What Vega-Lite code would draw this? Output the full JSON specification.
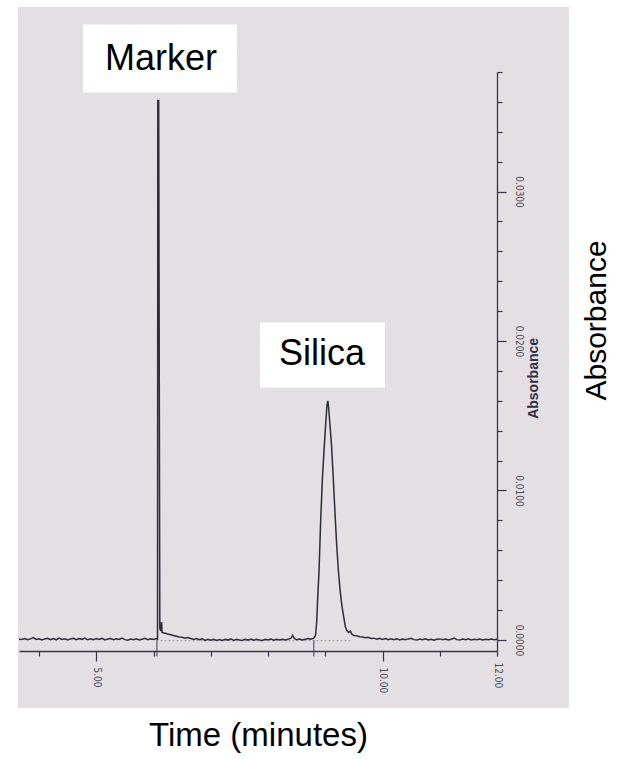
{
  "$schema": "https://vega.github.io/schema/vega-lite/v6.json",
  "width": 478,
  "height": 579,
  "autosize": {"type": "none"},
  "padding": {"left": 19, "top": 72, "right": 124, "bottom": 108},
  "background": "white",
  "config": {"view": {"stroke": null}},
  "datasets": {
    "trace": [
      {"t": 3.65, "a": 0.00005}, {"t": 3.70, "a": 0.00003}, {"t": 3.75, "a": 0.00009}, {"t": 3.80, "a": 0.00001},
      {"t": 3.85, "a": 0.00007}, {"t": 3.90, "a": 0.00016}, {"t": 3.95, "a": 0.00003}, {"t": 4.00, "a": 0.00008},
      {"t": 4.05, "a": 0.0}, {"t": 4.10, "a": 0.00007}, {"t": 4.15, "a": 0.00011}, {"t": 4.20, "a": 0.00002},
      {"t": 4.25, "a": 0.00009}, {"t": 4.30, "a": 0.00001}, {"t": 4.35, "a": 0.00012}, {"t": 4.40, "a": 0.00003},
      {"t": 4.45, "a": 0.00008}, {"t": 4.50, "a": 0.0}, {"t": 4.55, "a": 0.00007}, {"t": 4.60, "a": 0.00011},
      {"t": 4.65, "a": 0.00002}, {"t": 4.70, "a": 0.00009}, {"t": 4.75, "a": 0.00004}, {"t": 4.80, "a": 0.00013},
      {"t": 4.85, "a": 0.00001}, {"t": 4.90, "a": 0.00007}, {"t": 4.95, "a": 0.00002}, {"t": 5.00, "a": 0.00009},
      {"t": 5.05, "a": 0.00003}, {"t": 5.10, "a": 0.00011}, {"t": 5.15, "a": 0.0}, {"t": 5.20, "a": 0.00006},
      {"t": 5.25, "a": 0.00009}, {"t": 5.30, "a": 0.00001}, {"t": 5.35, "a": 0.00008}, {"t": 5.40, "a": 0.00003},
      {"t": 5.45, "a": 0.00012}, {"t": 5.50, "a": 0.00002}, {"t": 5.55, "a": -0.00002}, {"t": 5.60, "a": 0.00006},
      {"t": 5.65, "a": 0.00001}, {"t": 5.70, "a": 0.00008}, {"t": 5.75, "a": 0.0}, {"t": 5.80, "a": 0.00005},
      {"t": 5.85, "a": 0.00011}, {"t": 5.90, "a": 0.00002}, {"t": 5.95, "a": 0.00007}, {"t": 6.00, "a": 0.00003},
      {"t": 6.05, "a": 0.00009}, {"t": 6.07, "a": 0.00005}, {"t": 6.075, "a": 0.0361}, {"t": 6.09, "a": 0.0361},
      {"t": 6.11, "a": 0.0008}, {"t": 6.125, "a": 0.0006}, {"t": 6.14, "a": 0.0012}, {"t": 6.15, "a": 0.0005},
      {"t": 6.20, "a": 0.00045}, {"t": 6.25, "a": 0.0004}, {"t": 6.30, "a": 0.00035}, {"t": 6.35, "a": 0.0003},
      {"t": 6.40, "a": 0.00025}, {"t": 6.45, "a": 0.0002}, {"t": 6.50, "a": 0.00018}, {"t": 6.55, "a": 0.00012},
      {"t": 6.60, "a": 0.00016}, {"t": 6.65, "a": 0.0001}, {"t": 6.70, "a": 0.00003}, {"t": 6.75, "a": 0.00009},
      {"t": 6.80, "a": 0.00001}, {"t": 6.85, "a": 0.00007}, {"t": 6.90, "a": -0.00003}, {"t": 6.95, "a": 0.00005},
      {"t": 7.00, "a": -0.00002}, {"t": 7.05, "a": 0.00004}, {"t": 7.10, "a": -0.00004}, {"t": 7.15, "a": 0.00003},
      {"t": 7.20, "a": -0.00003}, {"t": 7.25, "a": 0.00005}, {"t": 7.30, "a": -0.00001}, {"t": 7.35, "a": 0.00007},
      {"t": 7.40, "a": -0.00003}, {"t": 7.45, "a": 0.00004}, {"t": 7.50, "a": 0.0}, {"t": 7.55, "a": -0.00004},
      {"t": 7.60, "a": 0.00005}, {"t": 7.65, "a": -0.00001}, {"t": 7.70, "a": 0.00006}, {"t": 7.75, "a": -0.00002},
      {"t": 7.80, "a": 0.00004}, {"t": 7.85, "a": 0.0}, {"t": 7.90, "a": -0.00003}, {"t": 7.95, "a": 0.00005},
      {"t": 8.00, "a": 0.0}, {"t": 8.05, "a": 0.00006}, {"t": 8.10, "a": -0.00002}, {"t": 8.15, "a": 0.00004},
      {"t": 8.20, "a": -0.00001}, {"t": 8.25, "a": 0.00005}, {"t": 8.30, "a": 0.0}, {"t": 8.35, "a": 0.00004},
      {"t": 8.40, "a": 0.00012}, {"t": 8.43, "a": 0.0003}, {"t": 8.46, "a": 0.0001}, {"t": 8.50, "a": 0.00001},
      {"t": 8.55, "a": 0.00006}, {"t": 8.60, "a": 0.0}, {"t": 8.65, "a": 0.00005}, {"t": 8.70, "a": 0.00009},
      {"t": 8.75, "a": 0.00005}, {"t": 8.80, "a": 0.00012}, {"t": 8.83, "a": 0.0003}, {"t": 8.85, "a": 0.0012},
      {"t": 8.87, "a": 0.003}, {"t": 8.89, "a": 0.0045}, {"t": 8.92, "a": 0.008}, {"t": 8.95, "a": 0.0108},
      {"t": 8.98, "a": 0.0128}, {"t": 9.01, "a": 0.0146}, {"t": 9.03, "a": 0.0157}, {"t": 9.045, "a": 0.016},
      {"t": 9.06, "a": 0.0155}, {"t": 9.08, "a": 0.0145}, {"t": 9.11, "a": 0.013}, {"t": 9.14, "a": 0.0108},
      {"t": 9.17, "a": 0.0085}, {"t": 9.20, "a": 0.0063}, {"t": 9.23, "a": 0.0046}, {"t": 9.26, "a": 0.0033},
      {"t": 9.29, "a": 0.0023}, {"t": 9.32, "a": 0.0016}, {"t": 9.35, "a": 0.0009}, {"t": 9.38, "a": 0.0006},
      {"t": 9.41, "a": 0.0005}, {"t": 9.44, "a": 0.0006}, {"t": 9.46, "a": 0.0004}, {"t": 9.50, "a": 0.0003},
      {"t": 9.55, "a": 0.00028}, {"t": 9.60, "a": 0.00022}, {"t": 9.65, "a": 0.0002}, {"t": 9.70, "a": 0.00015},
      {"t": 9.75, "a": 0.00018}, {"t": 9.80, "a": 0.0001}, {"t": 9.85, "a": 0.00012}, {"t": 9.90, "a": 0.00005},
      {"t": 9.95, "a": 0.00011}, {"t": 10.00, "a": 0.00003}, {"t": 10.05, "a": 0.00009}, {"t": 10.10, "a": 0.00001},
      {"t": 10.15, "a": 0.00007}, {"t": 10.20, "a": 0.00002}, {"t": 10.25, "a": 0.00008}, {"t": 10.30, "a": 0.0},
      {"t": 10.35, "a": 0.00006}, {"t": 10.40, "a": 0.00001}, {"t": 10.45, "a": 0.00007}, {"t": 10.50, "a": 0.00011},
      {"t": 10.55, "a": 0.00002}, {"t": 10.60, "a": -0.00001}, {"t": 10.65, "a": 0.00006}, {"t": 10.70, "a": 0.00001},
      {"t": 10.75, "a": 0.00008}, {"t": 10.80, "a": 0.0}, {"t": 10.85, "a": 0.00005}, {"t": 10.90, "a": -0.00002},
      {"t": 10.95, "a": 0.00004}, {"t": 11.00, "a": 0.00007}, {"t": 11.05, "a": 0.00001}, {"t": 11.10, "a": 0.00006},
      {"t": 11.15, "a": 0.0}, {"t": 11.20, "a": 0.00005}, {"t": 11.25, "a": 0.00012}, {"t": 11.30, "a": 0.00002},
      {"t": 11.35, "a": -0.00001}, {"t": 11.40, "a": 0.00006}, {"t": 11.45, "a": 0.00001}, {"t": 11.50, "a": 0.00007},
      {"t": 11.55, "a": 0.0}, {"t": 11.60, "a": 0.00005}, {"t": 11.65, "a": 0.00001}, {"t": 11.70, "a": 0.00006},
      {"t": 11.75, "a": 0.0}, {"t": 11.80, "a": 0.00005}, {"t": 11.85, "a": 0.00001}, {"t": 11.90, "a": 0.00006},
      {"t": 11.95, "a": 0.00002}, {"t": 12.00, "a": 0.00004}
    ],
    "labels": [
      {"label": "Marker", "t": 6.13, "a": 0.0389},
      {"label": "Silica", "t": 8.943, "a": 0.0191}
    ],
    "events": [
      {"t": 6.06},
      {"t": 8.8}
    ]
  },
  "layer": [
    {
      "data": {"values": [{}]},
      "mark": {"type": "rect", "fill": "#e3dfe2"},
      "encoding": {
        "x": {"datum": 3.633, "type": "quantitative"},
        "x2": {"datum": 13.258},
        "y": {"datum": -0.00455, "type": "quantitative"},
        "y2": {"datum": 0.04235}
      }
    },
    {
      "data": {"name": "labels"},
      "transform": [{"filter": "datum.label == 'Marker'"}],
      "mark": {"type": "point", "shape": "M-78,-34H76V34H-78Z", "size": 4, "filled": true, "fill": "white", "opacity": 1, "strokeWidth": 0},
      "encoding": {
        "x": {"field": "t", "type": "quantitative"},
        "y": {"field": "a", "type": "quantitative"}
      }
    },
    {
      "data": {"name": "labels"},
      "transform": [{"filter": "datum.label == 'Silica'"}],
      "mark": {"type": "point", "shape": "M-62,-32H63V33H-62Z", "size": 4, "filled": true, "fill": "white", "opacity": 1, "strokeWidth": 0},
      "encoding": {
        "x": {"field": "t", "type": "quantitative"},
        "y": {"field": "a", "type": "quantitative"}
      }
    },
    {
      "data": {"name": "events"},
      "mark": {"type": "rule", "color": "#3a3b52", "strokeWidth": 1},
      "encoding": {
        "x": {"field": "t", "type": "quantitative"},
        "y": {"datum": 0.0},
        "y2": {"datum": -0.0011}
      }
    },
    {
      "data": {"values": [{"t0": 6.12, "t1": 9.45, "a": -0.00005}]},
      "mark": {"type": "rule", "color": "#8a8a9a", "strokeWidth": 0.8, "strokeDash": [2, 2]},
      "encoding": {
        "x": {"field": "t0", "type": "quantitative"},
        "x2": {"field": "t1"},
        "y": {"field": "a", "type": "quantitative"}
      }
    },
    {
      "data": {"name": "trace"},
      "mark": {"type": "line", "color": "#2c2c3c", "strokeWidth": 1.5, "interpolate": "linear"},
      "encoding": {
        "x": {
          "field": "t", "type": "quantitative",
          "scale": {"domain": [3.65, 12], "nice": false, "zero": false},
          "axis": {
            "orient": "bottom",
            "zindex": 1,
            "values": [4, 5, 6, 7, 8, 9, 10, 11, 12],
            "tickCount": 40,
            "labelExpr": "(datum.value == 5 || datum.value == 10 || datum.value == 12) ? format(datum.value, '.2f') : ''",
            "labelAngle": 90,
            "labelFont": "Liberation Sans Narrow, DejaVu Sans Condensed, Liberation Sans",
            "labelFontSize": 10,
            "labelColor": "#4c4c5c",
            "labelPadding": 6,
            "labelOverlap": false,
            "labelFlush": false,
            "labelBound": false,
            "grid": false,
            "domainColor": "#34364f",
            "domainWidth": 1.3,
            "tickColor": "#34364f",
            "tickWidth": 1.2,
            "tickSize": {"condition": {"test": "datum.value == 5 || datum.value == 10", "value": 10}, "value": 5},
            "title": "Time (minutes)",
            "titleFont": "Liberation Sans",
            "titleFontSize": 33,
            "titleFontWeight": "normal",
            "titleColor": "black",
            "titlePadding": 27
          }
        },
        "y": {
          "field": "a", "type": "quantitative",
          "scale": {"domain": [-0.00074, 0.038], "nice": false, "zero": false},
          "axis": {
            "orient": "right",
            "zindex": 1,
            "values": [0, 0.002, 0.004, 0.006, 0.008, 0.01, 0.012, 0.014, 0.016, 0.018, 0.02, 0.022, 0.024, 0.026, 0.028, 0.03, 0.032, 0.034, 0.036, 0.038],
            "tickCount": 40,
            "labelExpr": "(abs(datum.value * 100 - round(datum.value * 100)) < 0.001) ? format(datum.value, '.4f') : ''",
            "labelAngle": 90,
            "labelFont": "Liberation Sans Narrow, DejaVu Sans Condensed, Liberation Sans",
            "labelFontSize": 10,
            "labelColor": "#4c4c5c",
            "labelPadding": 7,
            "labelOverlap": false,
            "labelFlush": false,
            "labelBound": false,
            "grid": false,
            "domainColor": "#34364f",
            "domainWidth": 1.3,
            "tickColor": "#34364f",
            "tickWidth": 1.2,
            "tickSize": {"condition": {"test": "abs(datum.value * 100 - round(datum.value * 100)) < 0.001", "value": 9}, "value": 5},
            "title": "Absorbance",
            "titleAngle": 270,
            "titleBaseline": "top",
            "titleY": 248,
            "titleFont": "Liberation Sans",
            "titleFontSize": 30,
            "titleFontWeight": "normal",
            "titleColor": "black",
            "titlePadding": 58
          }
        }
      }
    },
    {
      "data": {"name": "labels"},
      "mark": {"type": "text", "font": "Liberation Sans", "fontSize": 36, "color": "black", "align": "center", "baseline": "middle"},
      "encoding": {
        "x": {"field": "t", "type": "quantitative"},
        "y": {"field": "a", "type": "quantitative"},
        "text": {"field": "label"}
      }
    },
    {
      "data": {"values": [{"label": "Absorbance", "t": 12.646, "a": 0.0175}]},
      "mark": {"type": "text", "font": "Liberation Sans", "fontSize": 14, "fontWeight": "bold", "color": "#2e2f48", "angle": 270, "align": "center", "baseline": "middle"},
      "encoding": {
        "x": {"field": "t", "type": "quantitative"},
        "y": {"field": "a", "type": "quantitative"},
        "text": {"field": "label"}
      }
    }
  ]
}
